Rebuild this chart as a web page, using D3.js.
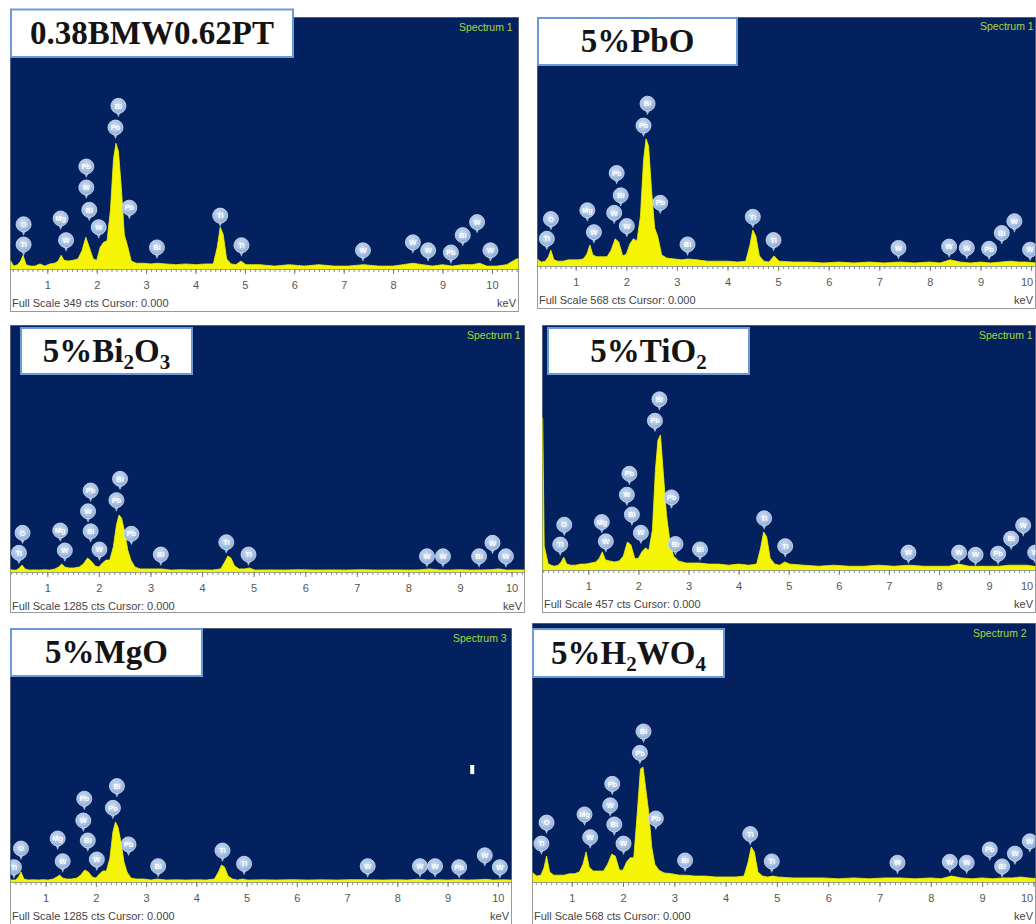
<!DOCTYPE html>
<html>
<head>
<meta charset="utf-8">
<script src="https://cdn.jsdelivr.net/npm/d3@7"></script>
<style>
  body { margin: 0; background: #ffffff; }
  svg { display: block; }
</style>
</head>
<body>
<svg id="fig" width="1036" height="924"></svg>
<script>
// Energy channels (keV) shared by all six EDS spectra
const energyKeV = [
  0.05, 0.07, 0.09, 0.12, 0.20, 0.26, 0.32, 0.40, 0.46, 0.51,
  0.57, 0.65, 0.75, 0.85, 0.95, 1.05, 1.15, 1.22, 1.28, 1.34,
  1.42, 1.52, 1.62, 1.70, 1.78, 1.85, 1.93, 2.00, 2.07, 2.14,
  2.21, 2.28, 2.34, 2.39, 2.44, 2.50, 2.56, 2.62, 2.70, 2.80,
  2.95, 3.10, 3.22, 3.40, 3.60, 3.80, 4.00, 4.20, 4.36, 4.44,
  4.50, 4.56, 4.63, 4.72, 4.82, 4.92, 5.02, 5.30, 5.60, 5.90,
  6.20, 6.50, 6.80, 7.10, 7.40, 7.70, 8.00, 8.20, 8.40, 8.60,
  8.80, 9.00, 9.20, 9.40, 9.60, 9.75, 9.90, 10.10, 10.30, 10.50,
  10.60
];

// Counts (cts) per channel for each composition
const countsBMWPT = [
  17, 17, 17, 17, 14, 11, 4, 6, 11, 19,
  6, 4, 4, 7, 4, 7, 8, 11, 19, 12,
  11, 12, 14, 25, 44, 30, 14, 12, 30, 37,
  39, 83, 152, 174, 163, 111, 47, 33, 11, 8,
  8, 7, 8, 7, 6, 7, 6, 7, 7, 30,
  58, 48, 14, 7, 6, 11, 6, 6, 4, 6,
  4, 6, 4, 4, 6, 4, 4, 6, 8, 6,
  4, 6, 4, 6, 6, 8, 4, 4, 6, 14,
  14
];
const countsPbO = [
  21, 21, 21, 21, 21, 14, 9, 11, 21, 36,
  14, 11, 11, 14, 14, 14, 16, 27, 48, 25,
  21, 21, 21, 36, 62, 55, 23, 27, 50, 62,
  57, 114, 240, 290, 274, 171, 87, 68, 25, 18,
  16, 14, 16, 14, 11, 11, 11, 9, 11, 46,
  82, 68, 23, 11, 9, 23, 11, 9, 9, 7,
  9, 7, 9, 7, 9, 7, 9, 7, 14, 9,
  7, 9, 7, 9, 11, 9, 9, 7, 9, 9,
  9
];
const countsBi2O3 = [
  16, 16, 16, 16, 16, 16, 10, 10, 21, 36,
  16, 10, 11, 10, 12, 10, 16, 26, 42, 26,
  21, 21, 26, 42, 73, 57, 31, 26, 47, 62,
  62, 130, 244, 296, 281, 208, 114, 62, 26, 16,
  16, 16, 16, 10, 12, 10, 11, 10, 16, 52,
  83, 73, 31, 16, 16, 21, 10, 11, 10, 12,
  10, 11, 10, 12, 10, 11, 10, 11, 16, 11,
  10, 12, 10, 11, 12, 16, 10, 11, 10, 12,
  12
];
const countsTiO2 = [
  283, 283, 283, 45, 11, 9, 7, 9, 15, 24,
  11, 9, 9, 11, 11, 13, 15, 22, 34, 19,
  17, 15, 17, 26, 52, 47, 21, 22, 34, 41,
  37, 75, 187, 242, 252, 177, 103, 60, 26, 17,
  13, 13, 13, 11, 11, 9, 11, 9, 11, 41,
  71, 62, 22, 11, 9, 15, 11, 9, 7, 9,
  7, 7, 9, 7, 9, 7, 7, 7, 11, 7,
  7, 7, 7, 9, 9, 9, 7, 7, 7, 7,
  7
];
const countsMgO = [
  15, 15, 15, 15, 15, 15, 10, 10, 25, 51,
  15, 10, 11, 10, 12, 10, 15, 25, 35, 20,
  15, 15, 20, 35, 61, 51, 25, 20, 40, 56,
  56, 121, 253, 304, 278, 202, 101, 51, 20, 15,
  15, 10, 15, 10, 11, 10, 11, 10, 15, 51,
  86, 76, 30, 15, 10, 15, 10, 11, 10, 12,
  10, 11, 10, 12, 11, 10, 11, 10, 14, 10,
  11, 10, 12, 10, 11, 14, 10, 11, 10, 11,
  11
];
const countsH2WO4 = [
  26, 26, 26, 26, 26, 18, 13, 15, 31, 57,
  22, 15, 15, 15, 18, 18, 22, 39, 66, 33,
  24, 24, 24, 39, 61, 57, 26, 26, 44, 53,
  53, 154, 248, 252, 208, 154, 77, 39, 26, 20,
  18, 15, 15, 13, 13, 11, 11, 11, 13, 44,
  77, 66, 22, 13, 11, 13, 11, 9, 9, 9,
  7, 9, 7, 9, 9, 7, 9, 7, 13, 9,
  7, 9, 7, 9, 9, 11, 9, 7, 9, 9,
  9
];

// Element line labels: [symbol, keV, counts at the label tip]
const markersBMWPT = [
  ["Ti", 0.52, 18], ["O", 0.52, 46], ["Mg", 1.27, 54], ["W", 1.38, 24],
  ["Pb", 1.79, 126], ["W", 1.79, 97], ["Bi", 1.85, 66], ["W", 2.04, 42],
  ["Bi", 2.44, 210], ["Pb", 2.38, 180], ["Pb", 2.66, 69], ["Bi", 3.22, 14],
  ["Ti", 4.50, 58], ["Ti", 4.93, 17], ["W", 7.39, 10], ["W", 8.40, 21],
  ["W", 8.71, 10], ["Pb", 9.17, 7], ["Bi", 9.41, 31], ["W", 9.70, 49], ["W", 9.97, 10]
];
const markersPbO = [
  ["Ti", 0.43, 36], ["O", 0.51, 81], ["Mg", 1.23, 101], ["W", 1.36, 51],
  ["Pb", 1.81, 186], ["Bi", 1.89, 135], ["W", 1.76, 95], ["W", 2.01, 65],
  ["Bi", 2.42, 344], ["Pb", 2.34, 294], ["Pb", 2.67, 118], ["Bi", 3.21, 23],
  ["Ti", 4.50, 86], ["Ti", 4.91, 33], ["W", 7.38, 15], ["W", 8.38, 18],
  ["W", 8.73, 15], ["Pb", 9.17, 13], ["Bi", 9.42, 49], ["W", 9.67, 76], ["W", 9.98, 11]
];
const markersBi2O3 = [
  ["Ti", 0.45, 40], ["O", 0.52, 144], ["Mg", 1.25, 156], ["W", 1.34, 52],
  ["Pb", 1.84, 364], ["W", 1.79, 256], ["Bi", 1.84, 152], ["W", 2.01, 57],
  ["Bi", 2.41, 425], ["Pb", 2.34, 314], ["Pb", 2.63, 139], ["Bi", 3.20, 31],
  ["Ti", 4.47, 95], ["Ti", 4.90, 31], ["W", 8.36, 22], ["W", 8.67, 22],
  ["Bi", 9.37, 22], ["W", 9.63, 92], ["W", 9.89, 22]
];
const markersTiO2 = [
  ["Ti", 0.44, 26], ["O", 0.52, 63], ["Mg", 1.27, 68], ["W", 1.35, 32],
  ["Pb", 1.82, 158], ["W", 1.77, 119], ["Bi", 1.87, 82], ["W", 2.05, 48],
  ["Bi", 2.42, 297], ["Pb", 2.33, 257], ["Pb", 2.66, 114], ["Bi", 2.74, 27],
  ["Bi", 3.23, 17], ["Ti", 4.51, 75], ["Ti", 4.93, 23], ["W", 7.39, 11],
  ["W", 8.40, 11], ["W", 8.73, 7], ["Pb", 9.18, 9], ["Bi", 9.44, 37],
  ["W", 9.68, 62], ["W", 9.92, 11]
];
const markersMgO = [
  ["Ti", 0.37, 17], ["O", 0.51, 111], ["Mg", 1.24, 162], ["W", 1.34, 47],
  ["Pb", 1.77, 363], ["W", 1.75, 253], ["Bi", 1.84, 152], ["W", 2.02, 56],
  ["Bi", 2.42, 427], ["Pb", 2.34, 317], ["Pb", 2.65, 132], ["Bi", 3.24, 22],
  ["Ti", 4.52, 101], ["Ti", 4.95, 34], ["W", 7.41, 22], ["W", 8.45, 22],
  ["W", 8.75, 22], ["Pb", 9.23, 17], ["W", 9.74, 77], ["W", 10.04, 17]
];
const markersH2WO4 = [
  ["Ti", 0.41, 59], ["O", 0.51, 105], ["Mg", 1.25, 123], ["W", 1.36, 73],
  ["Pb", 1.79, 190], ["W", 1.75, 143], ["Bi", 1.83, 101], ["W", 2.01, 59],
  ["Bi", 2.40, 305], ["Pb", 2.33, 258], ["Pb", 2.64, 114], ["Bi", 3.21, 22],
  ["Ti", 4.48, 80], ["Ti", 4.90, 20], ["W", 7.35, 17], ["W", 8.37, 19],
  ["W", 8.70, 17], ["Pb", 9.15, 46], ["Bi", 9.39, 9], ["W", 9.64, 37], ["W", 9.93, 64]
];

// Stray cursor mark in the MgO spectrum: [keV, lower cts, upper cts]
const cursorMgO = [9.49, 546, 592];

const tickKeV = [1, 2, 3, 4, 5, 6, 7, 8, 9, 10];

// Sample titles as [text, subscript?] runs
const titleBMWPT = [["0.38BMW0.62PT", 0]];
const titlePbO = [["5%PbO", 0]];
const titleBi2O3 = [["5%Bi", 0], ["2", 1], ["O", 0], ["3", 1]];
const titleTiO2 = [["5%TiO", 0], ["2", 1]];
const titleMgO = [["5%MgO", 0]];
const titleH2WO4 = [["5%H", 0], ["2", 1], ["WO", 0], ["4", 1]];

const fullScales = [349, 568, 1285, 457, 1285, 568];
const spectrumNames = ["Spectrum 1", "Spectrum 1", "Spectrum 1", "Spectrum 1", "Spectrum 3", "Spectrum 2"];

// Panel geometry (pixels): frame, plot baseline, 1 keV / 9 keV tick positions, title box, spectrum tag
const layouts = [
  { left: 10,  right: 518,  top: 17,  base: 269, bottom: 311, x1: 47.3,  x9: 442.5, box: [10, 8.5, 294, 58],   tag: [459, 30.5] },
  { left: 537, right: 1035, top: 17,  base: 266, bottom: 308, x1: 575.7, x9: 980.5, box: [537, 17, 738, 66],   tag: [980, 29.5] },
  { left: 10,  right: 524,  top: 325, base: 572, bottom: 612, x1: 47.3,  x9: 460.0, box: [20, 327, 193, 375],  tag: [467, 338.5] },
  { left: 542, right: 1035, top: 325, base: 570, bottom: 612, x1: 588.3, x9: 989.1, box: [547, 327, 750, 375], tag: [979, 338.5] },
  { left: 10,  right: 511,  top: 628, base: 882, bottom: 930, x1: 45.6,  x9: 447.6, box: [10, 628, 203, 677],  tag: [453, 641.5] },
  { left: 532, right: 1035, top: 623, base: 882, bottom: 930, x1: 571.7, x9: 982.1, box: [532, 628, 725, 678], tag: [973, 636.5] }
];

const panels = [
  { title: titleBMWPT, counts: countsBMWPT, markers: markersBMWPT },
  { title: titlePbO,   counts: countsPbO,   markers: markersPbO },
  { title: titleBi2O3, counts: countsBi2O3, markers: markersBi2O3 },
  { title: titleTiO2,  counts: countsTiO2,  markers: markersTiO2 },
  { title: titleMgO,   counts: countsMgO,   markers: markersMgO, cursor: cursorMgO },
  { title: titleH2WO4, counts: countsH2WO4, markers: markersH2WO4 }
].map((p, i) => Object.assign(p, {
  fullScale: fullScales[i], name: spectrumNames[i], layout: layouts[i]
}));

const NAVY = "#03215e";
const YELLOW = "#f4f404";
const SANS = "'Liberation Sans', Arial, sans-serif";
const SERIF = "'Liberation Serif', 'Times New Roman', serif";

const svg = d3.select("#fig");
svg.append("rect").attr("width", 1036).attr("height", 924).attr("fill", "#ffffff");

const defs = svg.append("defs");
const grad = defs.append("radialGradient").attr("id", "bubble")
  .attr("cx", "45%").attr("cy", "40%").attr("r", "62%");
grad.append("stop").attr("offset", "0%").attr("stop-color", "#d3e1f3");
grad.append("stop").attr("offset", "60%").attr("stop-color", "#a9c2e4");
grad.append("stop").attr("offset", "100%").attr("stop-color", "#86a7d3");

panels.forEach((p, i) => {
  const L = p.layout;
  const x = d3.scaleLinear().domain([1, 9]).range([L.x1, L.x9]);
  const y = d3.scaleLinear().domain([0, p.fullScale]).range([L.base, L.top]);
  const g = svg.append("g").attr("class", "panel");

  // frame and axis strip
  g.append("rect")
    .attr("x", L.left + 0.5).attr("y", L.top + 0.5)
    .attr("width", L.right - L.left).attr("height", L.bottom - L.top)
    .attr("fill", "#ffffff").attr("stroke", "#9a9a9a").attr("stroke-width", 1);

  // spectrum background
  g.append("rect")
    .attr("x", L.left + 0.5).attr("y", L.top + 0.5)
    .attr("width", L.right - L.left).attr("height", L.base - L.top)
    .attr("fill", NAVY);

  const clipId = "plotclip" + i;
  defs.append("clipPath").attr("id", clipId)
    .append("rect")
    .attr("x", L.left + 0.5).attr("y", L.top + 0.5)
    .attr("width", L.right - L.left).attr("height", L.base - L.top);

  const plot = g.append("g").attr("clip-path", `url(#${clipId})`);

  const series = energyKeV.map((e, k) => [e, p.counts[k]]);
  const area = d3.area()
    .x(d => x(d[0]))
    .y0(L.base)
    .y1(d => y(d[1]))
    .curve(d3.curveLinear);
  plot.append("path").datum(series)
    .attr("d", area)
    .attr("fill", YELLOW)
    .attr("stroke", YELLOW).attr("stroke-width", 0.8).attr("stroke-linejoin", "round");

  if (p.cursor) {
    plot.append("rect")
      .attr("x", x(p.cursor[0]) - 2).attr("width", 4)
      .attr("y", y(p.cursor[2])).attr("height", y(p.cursor[1]) - y(p.cursor[2]))
      .attr("fill", "#ffffff");
  }

  // element line labels
  const R = 7.5, STEM = 4;
  const mk = plot.selectAll("g.marker").data(p.markers).join("g")
    .attr("class", "marker")
    .attr("transform", d => `translate(${x(d[1])},${y(d[2]) - R - STEM})`);
  mk.append("path")
    .attr("d", `M-2.5,${R - 1.5}L2.5,${R - 1.5}L0,${R + STEM}Z`)
    .attr("fill", "#9cb8df");
  mk.append("circle").attr("r", R)
    .attr("fill", "url(#bubble)")
    .attr("stroke", "#d8e5f5").attr("stroke-width", 0.8);
  mk.append("text")
    .attr("text-anchor", "middle").attr("dy", 2.7)
    .attr("font-family", SANS).attr("font-size", 7.5).attr("font-weight", "bold")
    .attr("fill", "#ffffff")
    .text(d => d[0]);

  // spectrum tag
  g.append("text")
    .attr("x", L.tag[0]).attr("y", L.tag[1])
    .attr("font-family", SANS).attr("font-size", 10.5)
    .attr("fill", "#a6db3a")
    .text(p.name);

  // energy axis
  const eLo = x.invert(L.left), eHi = x.invert(L.right);
  const minor = d3.range(0, 106).map(k => k / 10).filter(e => e > eLo + 0.02 && e < eHi - 0.02);
  const minorAxis = g.append("g")
    .attr("transform", `translate(0,${L.base})`)
    .call(d3.axisBottom(x).tickValues(minor).tickSize(3).tickFormat(""));
  minorAxis.select(".domain").remove();
  minorAxis.selectAll("line").attr("stroke", "#8c8c8c");

  const majorAxis = g.append("g")
    .attr("transform", `translate(0,${L.base})`)
    .call(d3.axisBottom(x).tickValues(tickKeV).tickSize(5).tickPadding(7).tickFormat(d3.format("d")));
  majorAxis.select(".domain").remove();
  majorAxis.selectAll("line")
    .attr("stroke", "#7a7a7a")
    .attr("display", d => x(d) > L.right - 1 ? "none" : null);
  majorAxis.selectAll("text")
    .attr("font-family", SANS).attr("font-size", 11).attr("fill", "#555555")
    // keep labels at the cropped right edge inside the frame
    .attr("x", d => Math.min(0, L.right - 2 - (x(d) + (d >= 10 ? 6.5 : 3.5))));

  g.append("text")
    .attr("x", L.left + 2).attr("y", L.base + 37.5)
    .attr("font-family", SANS).attr("font-size", 11).attr("fill", "#444444")
    .text(`Full Scale ${p.fullScale} cts Cursor: 0.000`);
  g.append("text")
    .attr("x", L.right - 2).attr("y", L.base + 37.5)
    .attr("text-anchor", "end")
    .attr("font-family", SANS).attr("font-size", 11).attr("fill", "#444444")
    .text("keV");

  // sample title box
  const [bx0, by0, bx1, by1] = L.box;
  g.append("rect")
    .attr("x", bx0 + 1).attr("y", by0 + 1)
    .attr("width", bx1 - bx0 - 2).attr("height", by1 - by0 - 2)
    .attr("fill", "#ffffff").attr("stroke", "#6a9bd8").attr("stroke-width", 2);
  const title = g.append("text")
    .attr("x", (bx0 + bx1) / 2).attr("y", (by0 + by1) / 2 + 10.5)
    .attr("text-anchor", "middle")
    .attr("font-family", SERIF).attr("font-weight", "bold")
    .attr("font-size", 33).attr("fill", "#141414");
  let prevSub = false;
  p.title.forEach(([s, sub]) => {
    title.append("tspan")
      .attr("font-size", sub ? 21 : 33)
      .attr("dy", sub ? 7 : (prevSub ? -7 : 0))
      .text(s);
    prevSub = !!sub;
  });
});
</script>
</body>
</html>
